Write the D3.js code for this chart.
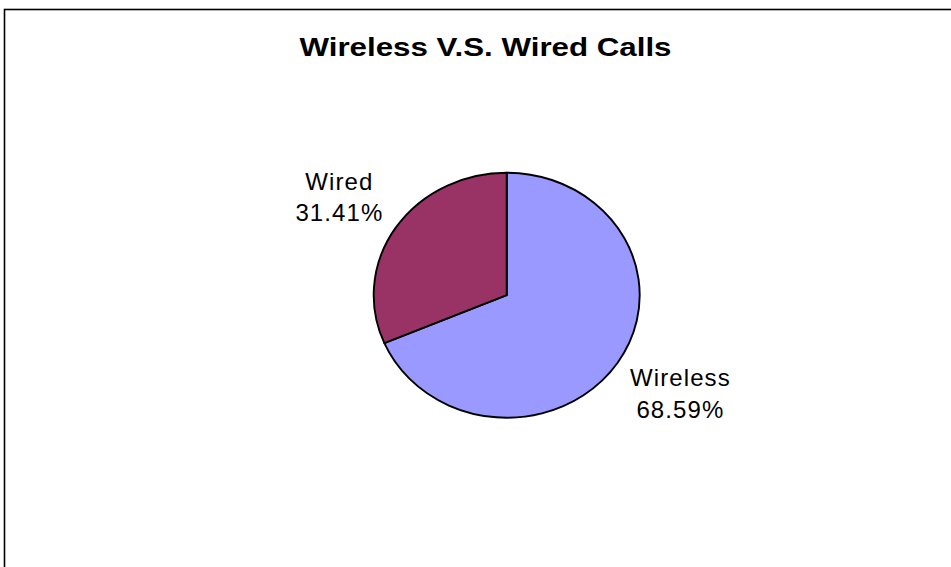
<!DOCTYPE html>
<html>
<head>
<meta charset="utf-8">
<script src="https://cdn.jsdelivr.net/npm/d3@7"></script>
<style>
  html, body { margin: 0; padding: 0; background: #fff; }
  svg { display: block; }
  text { font-family: "Liberation Sans", Arial, sans-serif; fill: #000; }
</style>
</head>
<body>
<svg id="chart" width="951" height="567"></svg>
<script>
// ---- data ----
const title = "Wireless V.S. Wired Calls";
const categories = ["Wireless", "Wired"];
const values = [68.59, 31.41];
const colors = ["#9999FF", "#993366"];

// ---- layout ----
const W = 951, H = 567;
const cx = 506.7, cy = 295.2;
const rx = 133, ry = 122.5;

const svg = d3.select("#chart");

// chart area border (extends beyond right and bottom)
svg.append("rect")
  .attr("x", 4.5).attr("y", 9.5)
  .attr("width", 960).attr("height", 600)
  .attr("fill", "#fff")
  .attr("stroke", "#000")
  .attr("stroke-width", 1.6);

// title
svg.append("text")
  .attr("x", 485.5).attr("y", 56)
  .attr("text-anchor", "middle")
  .attr("font-size", 26)
  .attr("font-weight", "bold")
  .attr("textLength", 372)
  .attr("lengthAdjust", "spacingAndGlyphs")
  .text(title);

const data = categories.map((c, i) => ({ name: c, value: values[i], color: colors[i] }));

const pie = d3.pie().sort(null).value(d => d.value);
const arcs = pie(data);
const arc = d3.arc().innerRadius(0).outerRadius(rx);

const g = svg.append("g")
  .attr("transform", `translate(${cx},${cy}) scale(1,${ry / rx})`);

g.selectAll("path")
  .data(arcs)
  .join("path")
  .attr("d", arc)
  .attr("fill", d => d.data.color)
  .attr("stroke", "#000")
  .attr("stroke-width", 1.9)
  .attr("vector-effect", "non-scaling-stroke")
  .attr("stroke-linejoin", "round");

// labels
const fmt = d3.format(".2f");
const lineH = 31.5;
arcs.forEach(a => {
  const mid = (a.startAngle + a.endAngle) / 2;
  const sx = Math.sin(mid), sy = -Math.cos(mid);
  const ax = cx + (rx + 10) * sx;
  const ay = cy + (ry + 3) * sy;
  const t = svg.append("text")
    .attr("text-anchor", "middle")
    .attr("font-size", 24)
    .attr("letter-spacing", 1.1);
  t.append("tspan").attr("x", 0).attr("dy", 0).text(a.data.name);
  t.append("tspan").attr("x", 0).attr("dy", lineH).text(fmt(a.data.value) + "%");
  const bb = t.node().getBBox();
  const w = bb.width, h = bb.height;
  const gap = 4;
  const tx = sx < 0 ? ax - w / 2 - gap : ax + w / 2 + gap;
  const ty = sy < 0 ? ay - (bb.y + h) : ay - bb.y;
  t.attr("transform", `translate(${tx},${ty})`);
});
</script>
</body>
</html>
